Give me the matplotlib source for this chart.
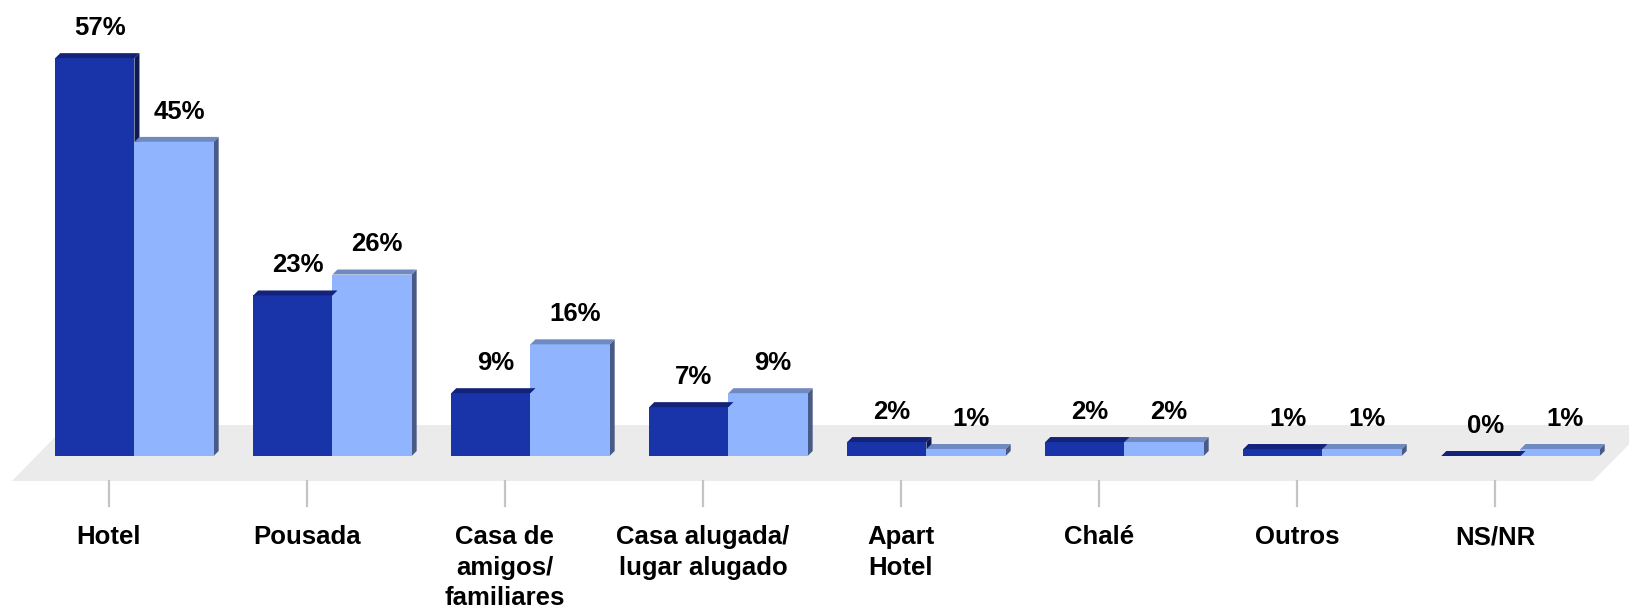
import numpy as np
import matplotlib.pyplot as plt
from matplotlib.patches import Polygon

plt.rcParams['font.family'] = ['Liberation Sans', 'DejaVu Sans']

# data
categorias = ['Hotel', 'Pousada', 'Casa de\namigos/\nfamiliares', 'Casa alugada/\nlugar alugado',
              'Apart\nHotel', 'Chalé', 'Outros', 'NS/NR']
serie_a = [57, 23, 9, 7, 2, 2, 1, 0]
serie_b = [45, 26, 16, 9, 1, 2, 1, 1]

# cores (frente, topo, lado)
cor_a = ('#1934A8', '#13237A', '#0E1A55')
cor_b = ('#91B4FF', '#6F89C1', '#485A86')
cor_chao = '#EBEBEB'

largura = 0.4
dx, dy = 0.0253, 0.716   # profundidade do efeito 3D
fs = 18.5

fig = plt.figure(figsize=(16.29, 6.09), dpi=100)
ax = fig.add_axes([0, 0, 1, 1])
ax.set_xlim(-0.679, 7.548)
ax.set_ylim(-21.92, 65.33)
ax.axis('off')

# chao cinza
ax.add_patch(Polygon([(-0.619, -3.58), (7.366, -3.58), (7.644, 4.44), (-0.341, 4.44)],
                     closed=True, facecolor=cor_chao, edgecolor='none', zorder=0))

x = np.arange(len(categorias))


def barra3d(x0, v, cores):
    frente, topo, lado = cores
    ax.bar(x0, v, width=largura, align='edge', color=frente, linewidth=0, zorder=2)
    ax.add_patch(Polygon([(x0, v), (x0 + largura, v), (x0 + largura + dx, v + dy), (x0 + dx, v + dy)],
                         closed=True, facecolor=topo, edgecolor='none', zorder=2))
    ax.add_patch(Polygon([(x0 + largura, 0), (x0 + largura + dx, dy), (x0 + largura + dx, v + dy), (x0 + largura, v)],
                         closed=True, facecolor=lado, edgecolor='none', zorder=1.9))


# desenhar da direita para a esquerda para o lado ficar atras da barra seguinte
for i in range(len(x) - 1, -1, -1):
    barra3d(x[i], serie_b[i], cor_b)
    barra3d(x[i] - largura, serie_a[i], cor_a)

for i in range(len(x)):
    ax.text(x[i] - largura / 2 + dx, serie_a[i] + dy + 2.6, f'{serie_a[i]}%',
            ha='center', va='baseline', fontsize=fs, fontweight='bold', zorder=3)
    ax.text(x[i] + largura / 2 + dx, serie_b[i] + dy + 2.6, f'{serie_b[i]}%',
            ha='center', va='baseline', fontsize=fs, fontweight='bold', zorder=3)

# marcas do eixo e rotulos
for i in range(len(x)):
    ax.plot([x[i] - 0.129, x[i] - 0.129], [-3.58, -7.16], color='#C4C4C4', lw=1.6, zorder=1)
    ax.text(x[i] - 0.129, -9.95, categorias[i], ha='center', va='top',
            fontsize=fs, fontweight='bold', linespacing=1.33)

plt.savefig('out.png', dpi=100)
